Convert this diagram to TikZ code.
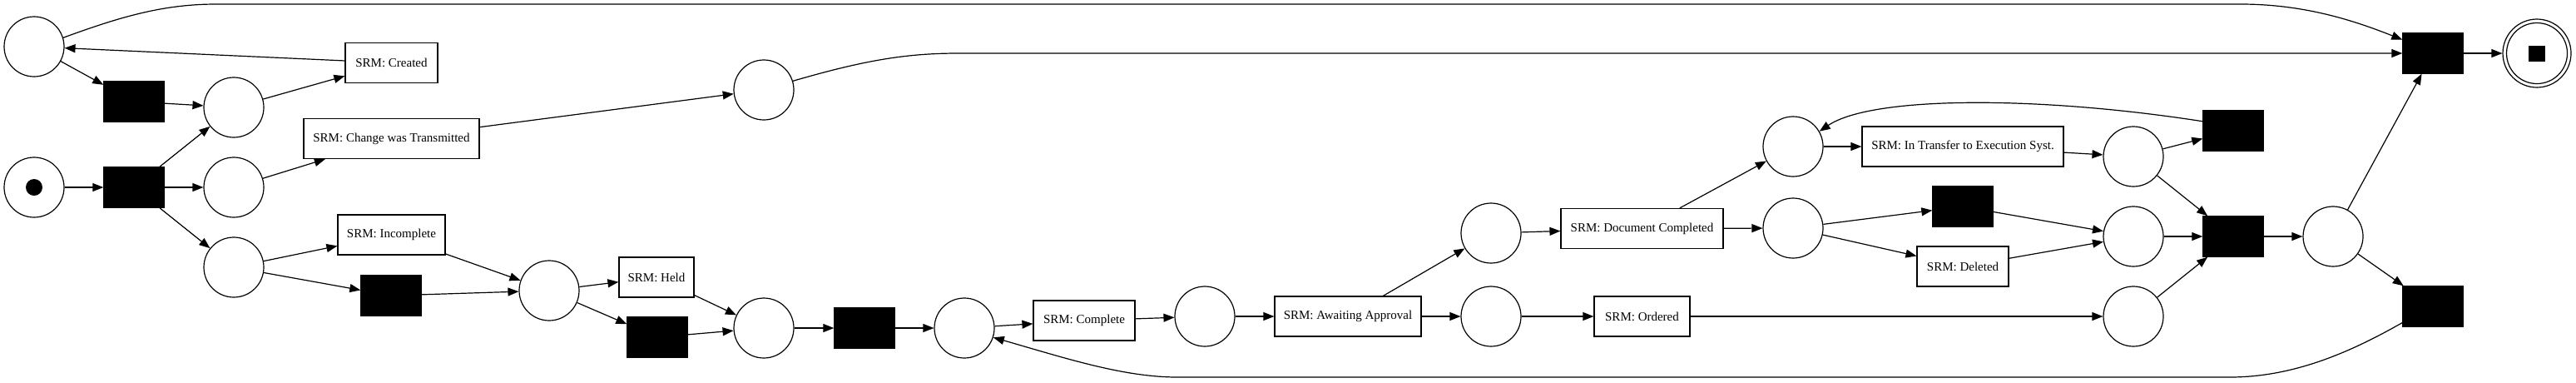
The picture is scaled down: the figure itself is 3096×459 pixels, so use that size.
\documentclass[tikz,border=0pt]{standalone}
\usepackage{fontspec}
\setmainfont{Liberation Serif}
\usetikzlibrary{arrows.meta}
\begin{document}
\begin{tikzpicture}[x=1pt,y=-1pt,
  pl/.style={circle, draw, line width=1.2pt, minimum size=72pt, inner sep=0pt},
  tr/.style={rectangle, fill=black, draw=black, minimum width=73pt, minimum height=49pt, inner sep=0pt},
  lab/.style={rectangle, draw, line width=1.2pt, minimum height=48pt, inner sep=0pt, font=\fontsize{15}{18}\selectfont},
  arc/.style={-{Triangle[length=13pt,width=10pt]}, line width=1.2pt}]
\useasboundingbox (0,0) rectangle (3096,459);
% places
\node[pl] (p0) at (41,225) {};
\fill (p0.center) circle (10pt);
\node[pl] (p1) at (41,56) {};
\node[pl] (p2) at (281,129) {};
\node[pl] (p3) at (281,225) {};
\node[pl] (p4) at (281,321) {};
\node[pl] (p5) at (660,349) {};
\node[pl] (p6) at (918,108) {};
\node[pl] (p7) at (918,394) {};
\node[pl] (p8) at (1159,394) {};
\node[pl] (p9) at (1448,380) {};
\node[pl] (p10) at (1792,280) {};
\node[pl] (p11) at (1792,380) {};
\node[pl] (p12) at (2155,176) {};
\node[pl] (p13) at (2155,274) {};
\node[pl] (p14) at (2564,188) {};
\node[pl] (p15) at (2564,284) {};
\node[pl] (p16) at (2564,380) {};
\node[pl] (p17) at (2804,284) {};
\node[pl, minimum size=82pt] (pend) at (3049,64) {};
\draw[line width=1.2pt] (pend.center) circle (36.5pt);
\fill ([xshift=-10pt,yshift=-9.5pt]pend.center) rectangle ([xshift=10pt,yshift=9.5pt]pend.center);
% silent transitions
\node[tr] (tinit) at (161,122) {};
\node[tr] (tsplit) at (161,225) {};
\node[tr] (tinc) at (470,355) {};
\node[tr] (theld) at (790,405) {};
\node[tr] (t8) at (1039,394) {};
\node[tr] (tdel) at (2359,248) {};
\node[tr] (t14) at (2684,157) {};
\node[tr] (tjoin) at (2684,284) {};
\node[tr] (tfinal) at (2924,64) {};
\node[tr] (tbot) at (2924,368) {};
% labelled transitions
\node[lab, minimum width=111pt] (created) at (470.5,75.5) {SRM: Created};
\node[lab, minimum width=211pt] (change) at (470.5,166.5) {SRM: Change was Transmitted};
\node[lab, minimum width=129pt] (incomplete) at (470.5,282) {SRM: Incomplete};
\node[lab, minimum width=90pt] (held) at (789,333) {SRM: Held};
\node[lab, minimum width=122pt] (complete) at (1303,385) {SRM: Complete};
\node[lab, minimum width=176pt] (awaiting) at (1620,380) {SRM: Awaiting Approval};
\node[lab, minimum width=195pt] (doccompl) at (1973.5,274.5) {SRM: Document Completed};
\node[lab, minimum width=115pt] (ordered) at (1973.5,380) {SRM: Ordered};
\node[lab, minimum width=242pt] (transfer) at (2359,176) {SRM: In Transfer to Execution Syst.};
\node[lab, minimum width=110pt] (deleted) at (2359,320) {SRM: Deleted};
% arcs
\draw[arc] (p0) -- (tsplit);
\draw[arc] (tsplit) -- (p2);
\draw[arc] (tsplit) -- (p3);
\draw[arc] (tsplit) -- (p4);
\draw[arc] (p1) -- (tinit);
\draw[arc] (tinit) -- (p2);
\draw[arc] (p2) -- (created);
\draw[arc] (created) -- (p1);
\draw[arc] (p3) -- (change);
\draw[arc] (change) -- (p6);
\draw[arc] (p4) -- (incomplete);
\draw[arc] (p4) -- (tinc);
\draw[arc] (incomplete) -- (p5);
\draw[arc] (tinc) -- (p5);
\draw[arc] (p5) -- (held);
\draw[arc] (p5) -- (theld);
\draw[arc] (held) -- (p7);
\draw[arc] (theld) -- (p7);
\draw[arc] (p7) -- (t8);
\draw[arc] (t8) -- (p8);
\draw[arc] (p8) -- (complete);
\draw[arc] (complete) -- (p9);
\draw[arc] (p9) -- (awaiting);
\draw[arc] (awaiting) -- (p10);
\draw[arc] (awaiting) -- (p11);
\draw[arc] (p10) -- (doccompl);
\draw[arc] (doccompl) -- (p12);
\draw[arc] (doccompl) -- (p13);
\draw[arc] (p12) -- (transfer);
\draw[arc] (transfer) -- (p14);
\draw[arc] (p13) -- (tdel);
\draw[arc] (p13) -- (deleted);
\draw[arc] (tdel) -- (p15);
\draw[arc] (deleted) -- (p15);
\draw[arc] (p11) -- (ordered);
\draw[arc] (ordered) -- (p16);
\draw[arc] (p14) -- (t14);
\draw[arc] (t14.163) .. controls (2450,115) and (2250,115) .. (p12.30);
\draw[arc] (p14) -- (tjoin);
\draw[arc] (p15) -- (tjoin);
\draw[arc] (p16) -- (tjoin);
\draw[arc] (tjoin) -- (p17);
\draw[arc] (p17) -- (tfinal);
\draw[arc] (p17) -- (tbot);
\draw[arc] (tfinal) -- (pend);
\draw[arc] (p1.17) .. controls (150,18) and (200,5) .. (260,5) -- (2693,5) .. controls (2770,5) and (2830,25) .. (tfinal.156);
\draw[arc] (p6.17) .. controls (1040,72) and (1090,64) .. (1152,64) -- (tfinal.west);
\draw[arc] (tbot.208) .. controls (2830,420) and (2760,453) .. (2680,453) -- (1415,453) .. controls (1350,453) and (1280,430) .. (p8.-18);
\end{tikzpicture}
\end{document}
